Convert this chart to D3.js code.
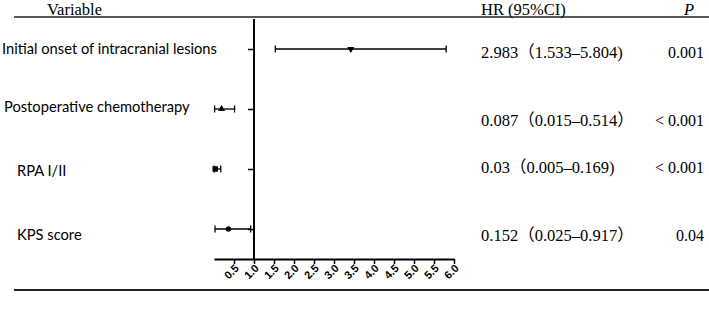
<!DOCTYPE html>
<html><head><meta charset="utf-8">
<script src="https://cdn.jsdelivr.net/npm/d3@7"></script>
<style>body{margin:0;background:#fff}svg{display:block}</style>
</head><body>
<script>
const variables = ["Initial onset of intracranial lesions","Postoperative chemotherapy","RPA I/II","KPS score"];
const hrPlotted = [3.42, 0.19, 0.03, 0.36];
const ciLow = [1.533, 0.015, 0.005, 0.025];
const ciHigh = [5.804, 0.514, 0.169, 0.917];
const markers = ["triangle-down","triangle","square","circle"];
const hrText = ["2.983\uFF081.533\u20135.804)","0.087\uFF080.015\u20130.514\uFF09","0.03\uFF080.005\u20130.169)","0.152\uFF080.025\u20130.917\uFF09"];
const pText = ["0.001","< 0.001","< 0.001","0.04"];
const xTicks = [0.5,1.0,1.5,2.0,2.5,3.0,3.5,4.0,4.5,5.0,5.5,6.0];

const W=709,H=309;
const svg=d3.select("body").append("svg").attr("width",W).attr("height",H);
const x=d3.scaleLinear().domain([0,6]).range([214,454]);
const y=d3.scalePoint().domain(variables).range([49,229]);
const axisY=259;

svg.append("line").attr("x1",14).attr("x2",709).attr("y1",17).attr("y2",17).attr("stroke","#222").attr("stroke-width",1.3);
svg.append("line").attr("x1",14).attr("x2",709).attr("y1",290).attr("y2",290).attr("stroke","#222").attr("stroke-width",1.8);

const serif="'Liberation Serif','Times New Roman',serif";
const serifCJK="'Liberation Serif','Noto Sans CJK SC',serif";
svg.append("text").attr("x",47).attr("y",14.5).attr("font-family",serif).attr("font-size",16.5).text("Variable");
svg.append("text").attr("x",481).attr("y",14.5).attr("font-family",serif).attr("font-size",16.5).text("HR (95%CI)");
svg.append("text").attr("x",684).attr("y",14.5).attr("font-family",serif).attr("font-size",16.5).attr("font-style","italic").text("P");

const gx=svg.append("g").attr("transform",`translate(0,${axisY})`).call(d3.axisBottom(x).tickValues(xTicks).tickSize(5).tickSizeOuter(0).tickFormat(d3.format(".1f")));
gx.select(".domain").attr("stroke","#000").attr("stroke-width",2);
gx.selectAll(".tick line").attr("stroke","#000").attr("stroke-width",1.5);
gx.selectAll(".tick text").attr("font-family","'Liberation Sans',Arial,sans-serif").attr("font-weight","bold").attr("font-size",11)
  .attr("text-anchor","end").attr("dy",0).attr("transform","translate(5,10) rotate(-45)").attr("y",0).attr("x",0);

const gy=svg.append("g").attr("transform",`translate(${x(1)},0)`).call(d3.axisLeft(y).tickSize(6).tickSizeOuter(0).tickFormat(""));
gy.select(".domain").remove();
svg.append("line").attr("x1",x(1)).attr("x2",x(1)).attr("y1",19).attr("y2",axisY).attr("stroke","#000").attr("stroke-width",2);
gy.selectAll(".tick line").attr("stroke","#000").attr("stroke-width",1.5);

const labelX=[2,4,17,17], labelDy=[0,-2,2,6];
const sans="Lato,'Open Sans',sans-serif";
svg.selectAll(".lab").data(variables).join("text").attr("class","lab")
  .attr("x",(d,i)=>labelX[i]).attr("y",(d,i)=>y(d)+labelDy[i]).attr("dy","0.35em")
  .attr("font-family",sans).attr("font-size",14.7).text(d=>d);

const rows=variables.map((v,i)=>({v,i}));
const g=svg.append("g");
g.selectAll(".ci").data(rows).join("line").attr("x1",d=>x(ciLow[d.i])).attr("x2",d=>x(ciHigh[d.i]))
  .attr("y1",d=>y(d.v)).attr("y2",d=>y(d.v)).attr("stroke","#000").attr("stroke-width",1.3);
["lo","hi"].forEach(k=>{
  g.selectAll(".cap"+k).data(rows).join("line").attr("x1",d=>x(k==="lo"?ciLow[d.i]:ciHigh[d.i])).attr("x2",d=>x(k==="lo"?ciLow[d.i]:ciHigh[d.i]))
   .attr("y1",d=>y(d.v)-3.5).attr("y2",d=>y(d.v)+3.5).attr("stroke","#000").attr("stroke-width",1.3);
});
const symMap={"triangle-down":d3.symbolTriangle,"triangle":d3.symbolTriangle,"square":d3.symbolSquare,"circle":d3.symbolCircle};
g.selectAll(".pt").data(rows).join("path")
  .attr("d",d=>d3.symbol().type(symMap[markers[d.i]]).size(markers[d.i]==="square"?30:22)())
  .attr("transform",d=>`translate(${x(hrPlotted[d.i])},${y(d.v)})`+(markers[d.i]==="triangle-down"?" rotate(180)":""))
  .attr("fill","#000");

const textY=[52,120,167,235];
svg.selectAll(".hr").data(hrText).join("text").attr("x",481).attr("y",(d,i)=>textY[i]).attr("dy","0.35em")
  .attr("font-family",serifCJK).attr("font-size",16.5).text(d=>d);
svg.selectAll(".pv").data(pText).join("text").attr("x",704).attr("y",(d,i)=>textY[i]).attr("dy","0.35em")
  .attr("text-anchor","end").attr("font-family",serif).attr("font-size",16).text(d=>d);
</script>
</body></html>
